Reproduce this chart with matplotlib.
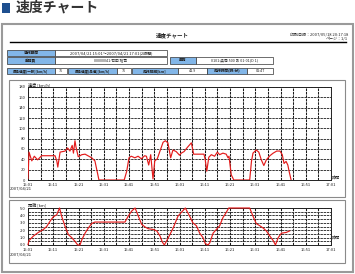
import matplotlib
matplotlib.use('Agg')
import matplotlib.pyplot as plt
from matplotlib.patches import Rectangle

plt.rcParams['font.family'] = ['Noto Sans CJK JP', 'DejaVu Sans']

W, H = 355, 274

# ---------------- data ----------------
tick_minutes = [0, 10, 20, 30, 40, 50, 60, 70, 80, 90, 100, 110, 120]
time_labels = ['15:01', '15:11', '15:21', '15:31', '15:41', '15:51', '16:01',
               '16:11', '16:21', '16:31', '16:41', '16:51', '17:01']
date_label = '2007/04/21'
speed_ticks = [0, 20, 40, 60, 80, 100, 120, 140, 160, 180]
dist_ticks = [0.0, 1.0, 2.0, 3.0, 4.0, 5.0]

speed_t = [0, 0.4, 1.5, 2.5, 3.8, 5.4, 10.7, 11.4, 11.8, 12.7, 14.7, 15.7, 16.6,
           17.5, 18.0, 18.6, 19.0, 19.9, 21.3, 22.6, 25.2, 26.5, 28.1, 38.1,
           39.1, 40.0, 40.9, 42.3, 43.6, 44.9, 46.2, 46.9, 47.8, 48.6, 49.5,
           50.2, 51.2, 52.2, 53.5, 54.4, 55.4, 56.5, 57.4, 58.7, 60.0, 60.7,
           61.8, 63.1, 64.7, 65.6, 67.3, 69.7, 70.2, 70.8, 71.6, 72.6, 73.9,
           75.0, 75.9, 77.2, 78.5, 79.2, 79.6, 80.5, 81.5, 87.8, 88.5, 89.1,
           90.4, 91.4, 92.4, 93.4, 94.4, 95.8, 97.1, 98.5, 99.8, 100.7, 101.4,
           102.2, 102.9, 103.4, 104.2]
speed_v = [3, 54, 37, 46, 39, 47, 47, 37, 25, 54, 56, 62, 56,
           67, 52, 76, 64, 45, 49, 50, 43, 37, 0, 0,
           17, 43, 46, 43, 46, 41, 47, 46, 29, 49, 2,
           37, 41, 55, 73, 76, 72, 43, 58, 55, 48, 52,
           55, 63, 72, 50, 50, 50, 39, 17, 44, 49, 46,
           54, 49, 52, 50, 43, 46, 10, 0, 0, 36, 52,
           58, 54, 39, 28, 39, 47, 52, 56, 56, 49, 32,
           36, 29, 17, 0]

dist_t = [0, 0.4, 2.1, 4.1, 6.1, 7.4, 8.7, 10.0, 11.4, 12.0, 12.5, 13.3, 14.7,
          16.0, 17.3, 18.6, 19.7, 20.6, 21.3, 22.6, 23.9, 25.2, 26.5, 38.4,
          39.7, 41.1, 42.4, 43.7, 45.0, 46.3, 47.6, 49.6, 51.0, 52.3, 53.2,
          54.0, 55.6, 57.5, 59.4, 60.7, 62.3, 64.0, 65.3, 66.7, 68.0, 69.3,
          70.2, 71.3, 72.0, 73.3, 74.6, 75.9, 77.2, 78.5, 79.5, 87.8, 89.1,
          90.4, 91.8, 93.1, 94.4, 95.8, 97.1, 98.0, 99.1, 100.4, 102.3, 103.6]
dist_v = [0.05, 0.6, 1.2, 1.7, 2.1, 2.5, 3.2, 3.8, 4.1, 4.6, 5.0, 3.9, 2.5,
          1.4, 1.0, 0.5, 0.0, 0.0, 0.7, 1.6, 2.3, 2.9, 3.1, 3.1,
          3.9, 4.6, 5.0, 3.9, 2.8, 2.45, 2.2, 2.1, 1.9, 1.2, 0.4,
          0.0, 1.0, 2.3, 3.9, 4.4, 5.0, 3.9, 3.0, 2.6, 1.6, 1.0,
          0.2, 0.0, 0.3, 1.6, 2.1, 2.6, 3.7, 4.4, 5.0, 5.0, 3.9,
          2.9, 2.6, 2.3, 1.9, 1.2, 0.6, 0.0, 1.0, 1.6, 1.7, 1.9]

page_title = '速度チャート'
doc_title = '速度チャート'
print_time = '印刷日時：2007/05/18 20:17:18'
page_no = 'ページ：1/1'

row1_labels = ['運行期間']
row1_values = ['2007/04/21 15:01～2007/04/21 17:01(2時間)']
row2_labels = ['乗務員', '車両']
row2_values = ['00000041:石田 裕司', '0101:呉商 500 あ 01-01(D 1)']
row3_labels = ['最高速度(一般)[km/h]', '最高速度(高速)[km/h]', '走行距離[km]', '走行時間(時:分)']
row3_values = ['76', '76', '41.9', '01:47']

# ---------------- figure ----------------
fig = plt.figure(figsize=(W / 100, H / 100), dpi=100)
bg = fig.add_axes([0, 0, 1, 1], zorder=0)
bg.set_xlim(0, W)
bg.set_ylim(H, 0)
bg.axis('off')

BLUE_CELL = '#82b6e8'
TXT = '#222222'


def rect(x0, y0, x1, y1, fc='none', ec='#444444', lw=0.5, z=1):
    bg.add_patch(Rectangle((x0, y0), x1 - x0, y1 - y0, facecolor=fc,
                           edgecolor=ec, linewidth=lw, zorder=z))


# page heading
rect(1.5, 2.5, 10, 13, fc='#1e4f8f', ec='none')
bg.text(16, 8, page_title, fontsize=10, color='#333333', va='center',
        ha='left', fontweight='bold')
# outer frame
rect(1.5, 23.5, 353, 272, ec='#9a9a9a', lw=1.5)

# document header
bg.text(172, 35.5, doc_title, fontsize=4.0, ha='center', va='center',
        color=TXT, fontweight='bold')
bg.plot([10, 346], [42, 42], color='black', lw=1.0)
bg.text(348, 34.5, print_time, fontsize=2.9, ha='right', va='center', color=TXT)
bg.text(348, 39, page_no, fontsize=2.9, ha='right', va='center', color=TXT)


def cell(x0, x1, y0, y1, text, label, fs=2.7):
    rect(x0, y0, x1, y1, fc=BLUE_CELL if label else 'white', ec='#333333', lw=0.5)
    bg.text((x0 + x1) / 2, (y0 + y1) / 2, text, fontsize=fs, ha='center',
            va='center', color=TXT, fontweight='bold' if label else 'normal')


# table
r1 = (49.8, 56.2)
cell(7, 55, *r1, row1_labels[0], True)
cell(55, 167, *r1, row1_values[0], False, fs=2.9)
r2 = (57.3, 63.6)
cell(7, 55, *r2, row2_labels[0], True)
cell(55, 167, *r2, row2_values[0], False)
cell(170, 196, *r2, row2_labels[1], True)
cell(196, 273, *r2, row2_values[1], False)
r3 = (67.6, 74.2)
cell(7, 55, *r3, row3_labels[0], True, fs=2.5)
cell(55, 67, *r3, row3_values[0], False)
cell(68, 117, *r3, row3_labels[1], True, fs=2.5)
cell(117, 131, *r3, row3_values[1], False)
cell(132, 178, *r3, row3_labels[2], True)
cell(178, 207, *r3, row3_values[2], False)
cell(207, 247, *r3, row3_labels[3], True)
cell(247, 273, *r3, row3_values[3], False)

# chart boxes
rect(9, 80, 345, 197, ec='#8a8a8a', lw=0.8)
rect(9, 200, 345, 263, ec='#8a8a8a', lw=0.8)


def make_axes(left, top, right, bottom):
    return fig.add_axes([left / W, 1 - bottom / H, (right - left) / W,
                         (bottom - top) / H], zorder=2)


def style(ax, yticks, ylabels, ymax, yminor):
    ax.set_xlim(0, 120)
    ax.set_ylim(0, ymax)
    ax.set_xticks(tick_minutes)
    ax.set_xticklabels(time_labels)
    ax.set_xticks(list(range(5, 120, 10)), minor=True)
    ax.set_yticks(yticks)
    ax.set_yticklabels(ylabels)
    if yminor:
        ax.set_yticks(yminor, minor=True)
    ax.tick_params(which='both', length=0, labelsize=3, colors=TXT, pad=2)
    ax.grid(True, axis='x', which='both', color='#1a1a1a', lw=0.75,
            linestyle=(0, (2.5, 0.8)))
    ax.grid(True, axis='y', which='both', color='#3a3a3a', lw=0.7,
            linestyle=(0, (2.5, 0.8)))
    for s in ax.spines.values():
        s.set_color('#222222')
        s.set_linewidth(0.7)
    ax.set_facecolor('white')


# speed chart
ax1 = make_axes(28, 87, 331, 180)
ax1.plot(speed_t, speed_v, color='#e31b1b', lw=0.85, zorder=3)
style(ax1, speed_ticks, [str(v) for v in speed_ticks], 180, None)
bg.text(28, 84.5, '速度 [km/h]', fontsize=3, ha='left', va='center', color=TXT)
bg.text(332, 177, '時間', fontsize=3, ha='left', va='center', color=TXT)
bg.text(21, 188, date_label, fontsize=3, ha='center', va='center', color=TXT)

# distance chart
ax2 = make_axes(28, 208, 331, 245)
ax2.plot(dist_t, dist_v, color='#e31b1b', lw=0.85, zorder=3, clip_on=False)
style(ax2, dist_ticks, ['%.1f' % v for v in dist_ticks], 5.0,
      [0.5, 1.5, 2.5, 3.5, 4.5])
bg.text(28, 205, '距離 [km]', fontsize=3, ha='left', va='center', color=TXT)
bg.text(332, 237.5, '時間', fontsize=3, ha='left', va='center', color=TXT)
bg.text(21, 254.5, date_label, fontsize=3, ha='center', va='center', color=TXT)

fig.savefig('out.png', dpi=100)
